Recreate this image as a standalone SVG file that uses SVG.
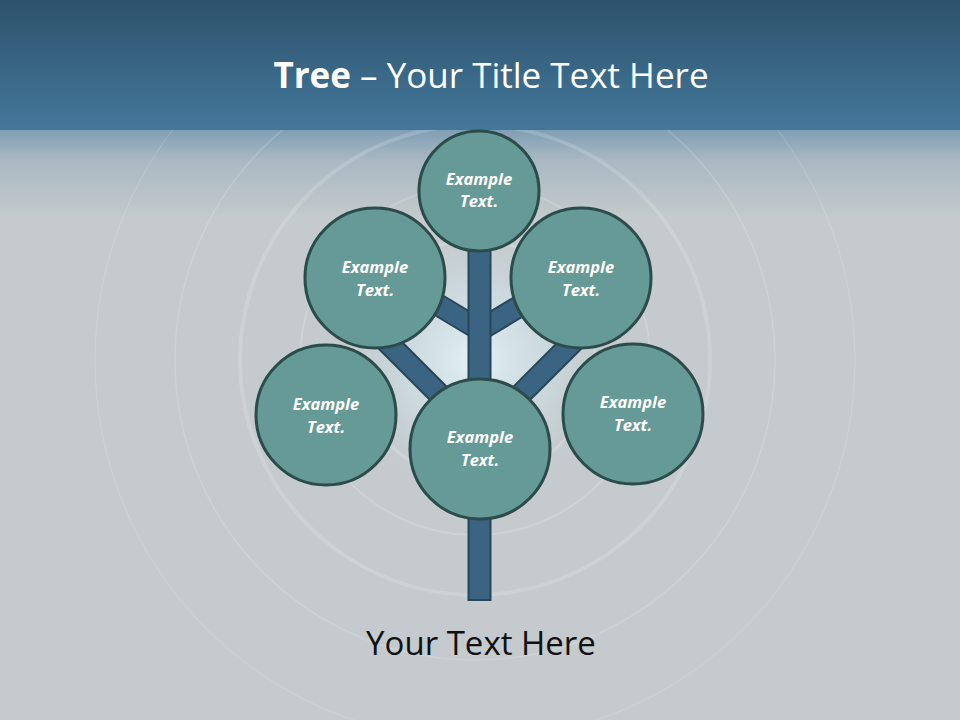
<svg xmlns="http://www.w3.org/2000/svg" width="960" height="720" viewBox="0 0 960 720">
  <defs>
    <linearGradient id="band" x1="0" y1="0" x2="0" y2="1">
      <stop offset="0" stop-color="#2d526c"/>
      <stop offset="1" stop-color="#44789b"/>
    </linearGradient>
    <linearGradient id="fade" x1="0" y1="0" x2="0" y2="1">
      <stop offset="0" stop-color="#7d9db4"/>
      <stop offset="0.35" stop-color="#a9b8c2"/>
      <stop offset="1" stop-color="#c4cacd"/>
    </linearGradient>
    <radialGradient id="glow" cx="0.5" cy="0.5" r="0.5">
      <stop offset="0" stop-color="#e8f6fb" stop-opacity="0.9"/>
      <stop offset="0.5" stop-color="#d3e8f0" stop-opacity="0.45"/>
      <stop offset="1" stop-color="#c4cacd" stop-opacity="0"/>
    </radialGradient>
    <clipPath id="below">
      <rect x="0" y="130" width="960" height="590"/>
    </clipPath>
    <style>
      .node circle { fill: #669a96; stroke: #2c4b4b; stroke-width: 3; }
      .node text { font-family: "Open Sans", "DejaVu Sans", sans-serif; font-size: 16.5px; font-weight: bold; font-style: italic; fill: #ffffff; text-anchor: middle; }
      .br-out { stroke: #27465a; stroke-width: 23; fill: none; }
      .br-in { stroke: #3b6482; stroke-width: 19; fill: none; }
      .deco { fill: none; stroke: #ffffff; stroke-opacity: 0.16; }
    </style>
  </defs>

  <rect x="0" y="0" width="960" height="720" fill="#c4cacd"/>
  <rect x="0" y="128" width="960" height="90" fill="url(#fade)"/>
  <rect x="0" y="0" width="960" height="130" fill="url(#band)"/>

  <g id="background-decor" clip-path="url(#below)">
    <circle cx="475" cy="360" r="150" fill="url(#glow)"/>
    <circle class="deco" cx="475" cy="360" r="120" stroke-width="3"/>
    <circle class="deco" cx="475" cy="360" r="175" stroke-width="2"/>
    <circle class="deco" cx="475" cy="360" r="235" stroke-width="4"/>
    <circle class="deco" cx="475" cy="360" r="300" stroke-width="1.5" stroke-opacity="0.12"/>
    <circle class="deco" cx="475" cy="360" r="380" stroke-width="1" stroke-opacity="0.1"/>
  </g>

  <g id="title">
    <text x="491" y="88" font-family="'Open Sans', 'DejaVu Sans', sans-serif" font-size="35" fill="#ffffff" text-anchor="middle"><tspan font-weight="bold">Tree</tspan> – Your Title Text Here</text>
  </g>

  <g id="connectors">
    <line class="br-out" x1="430" y1="300" x2="480" y2="330"/>
    <line class="br-out" x1="530" y1="300" x2="480" y2="330"/>
    <line class="br-out" x1="380" y1="335" x2="450" y2="405"/>
    <line class="br-out" x1="580" y1="335" x2="510" y2="405"/>
    <line class="br-in" x1="430" y1="300" x2="480" y2="330"/>
    <line class="br-in" x1="530" y1="300" x2="480" y2="330"/>
    <line class="br-in" x1="380" y1="335" x2="450" y2="405"/>
    <line class="br-in" x1="580" y1="335" x2="510" y2="405"/>
    <rect x="468.5" y="245" width="22" height="355" fill="#3b6482" stroke="#27465a" stroke-width="2"/>
  </g>

  <g id="node-top" class="node">
    <circle cx="479" cy="191" r="60"/>
    <text x="479" y="185">Example</text>
    <text x="479" y="207">Text.</text>
  </g>
  <g id="node-upper-left" class="node">
    <circle cx="375" cy="278" r="70"/>
    <text x="375" y="273">Example</text>
    <text x="375" y="296">Text.</text>
  </g>
  <g id="node-upper-right" class="node">
    <circle cx="581" cy="278" r="70"/>
    <text x="581" y="273">Example</text>
    <text x="581" y="296">Text.</text>
  </g>
  <g id="node-lower-left" class="node">
    <circle cx="326" cy="415" r="70"/>
    <text x="326" y="410">Example</text>
    <text x="326" y="433">Text.</text>
  </g>
  <g id="node-center" class="node">
    <circle cx="480" cy="449" r="70"/>
    <text x="480" y="443">Example</text>
    <text x="480" y="466">Text.</text>
  </g>
  <g id="node-lower-right" class="node">
    <circle cx="633" cy="414" r="70"/>
    <text x="633" y="408">Example</text>
    <text x="633" y="431">Text.</text>
  </g>

  <g id="caption">
    <text x="481" y="655" font-family="'Open Sans', 'DejaVu Sans', sans-serif" font-size="33" fill="#111111" text-anchor="middle">Your Text Here</text>
  </g>
</svg>
